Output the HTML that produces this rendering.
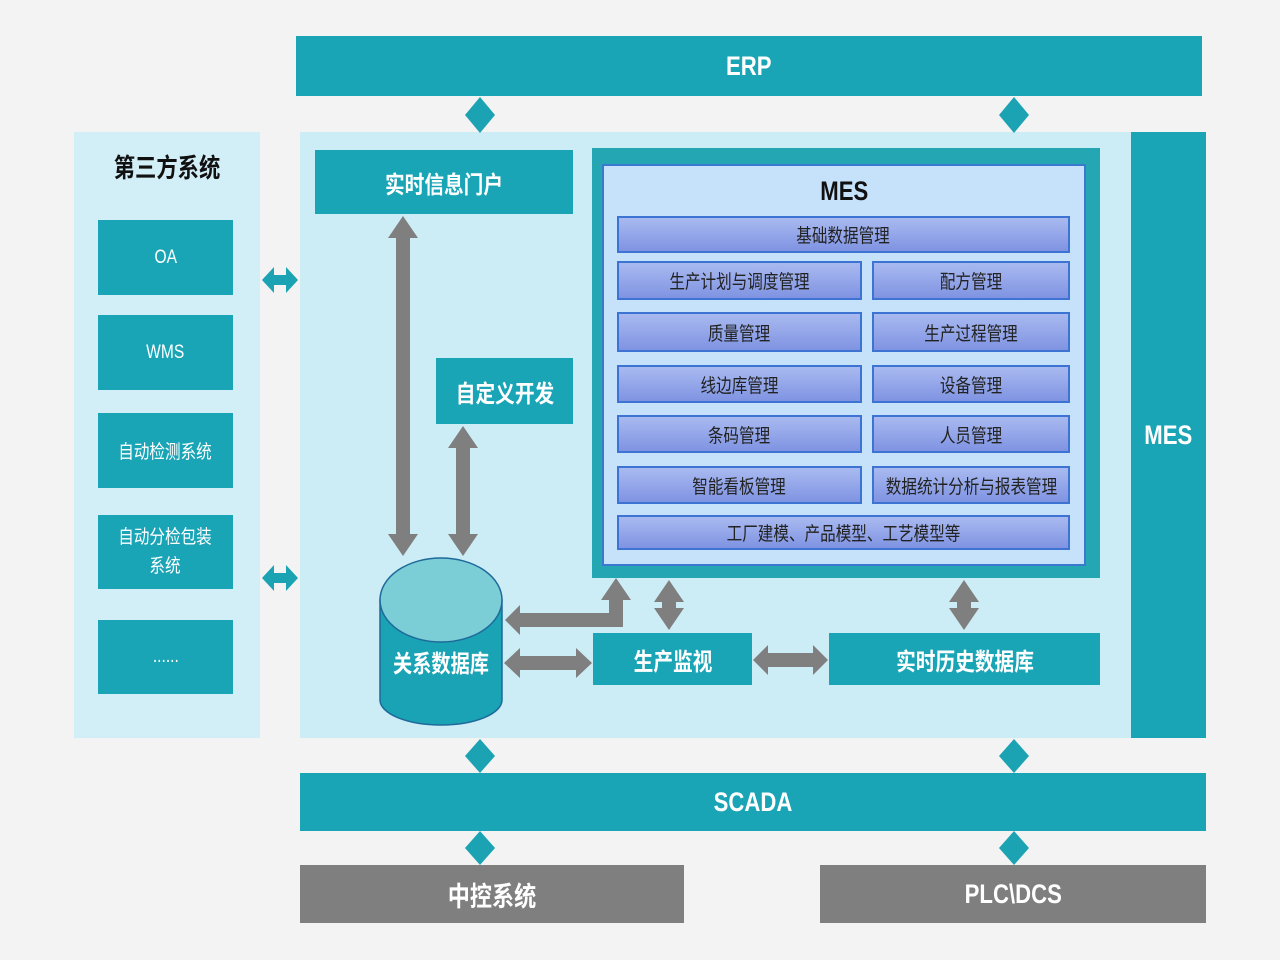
<!DOCTYPE html>
<html><head><meta charset="utf-8"><style>
body{margin:0;width:1280px;height:960px;background:#f3f3f3;position:relative;overflow:hidden;font-family:"Liberation Sans","Noto Sans CJK SC",sans-serif}
.a{position:absolute;display:flex;align-items:center;justify-content:center;box-sizing:border-box;text-align:center;white-space:nowrap}
.a span{display:inline-block;transform:scaleX(0.82)}
.t{background:#1aa5b7;color:#fff}
.b{font-weight:bold}
.g{background:#7f7f7f;color:#fff;font-weight:bold;font-size:27px}
.r{background:linear-gradient(#a9baf0,#7f93e2);border:2px solid #3d74d4;color:#222;font-size:19px}
.l{font-size:19px;color:#fff}
</style></head><body>
<div class="a" style="left:74px;top:132px;width:186px;height:606px;background:#d2eef7"></div>
<div class="a" style="left:300px;top:132px;width:831px;height:606px;background:#cdedf6"></div>
<div class="a t b" style="left:296px;top:36px;width:906px;height:60px;font-size:27px"><span>ERP</span></div>
<div class="a b" style="left:74px;top:145px;width:186px;height:42px;font-size:26px;color:#111"><span>第三方系统</span></div>
<div class="a t l" style="left:98px;top:220px;width:135px;height:75px"><span>OA</span></div>
<div class="a t l" style="left:98px;top:315px;width:135px;height:75px"><span>WMS</span></div>
<div class="a t l" style="left:98px;top:413px;width:135px;height:75px"><span>自动检测系统</span></div>
<div class="a t l" style="left:98px;top:515px;width:135px;height:74px;line-height:29px;white-space:normal"><span>自动分检包装<br>系统</span></div>
<div class="a t l" style="left:98px;top:620px;width:135px;height:74px"><span>......</span></div>
<div class="a t b" style="left:315px;top:150px;width:258px;height:64px;font-size:24px"><span>实时信息门户</span></div>
<div class="a t b" style="left:436px;top:358px;width:137px;height:66px;font-size:24px"><span>自定义开发</span></div>
<div class="a t b" style="left:1131px;top:132px;width:75px;height:606px;font-size:27px"><span>MES</span></div>
<div class="a" style="left:592px;top:148px;width:508px;height:430px;background:#24a7b3"></div>
<div class="a" style="left:602px;top:164px;width:484px;height:402px;background:#c6e2fb;border:2px solid #3b78d0"></div>
<div class="a b" style="left:602px;top:172px;width:484px;height:38px;font-size:27px;color:#111"><span>MES</span></div>
<div class="a r" style="left:617px;top:216px;width:453px;height:37px"><span>基础数据管理</span></div>
<div class="a r" style="left:617px;top:261px;width:245px;height:39px"><span>生产计划与调度管理</span></div>
<div class="a r" style="left:872px;top:261px;width:198px;height:39px"><span>配方管理</span></div>
<div class="a r" style="left:617px;top:312px;width:245px;height:40px"><span>质量管理</span></div>
<div class="a r" style="left:872px;top:312px;width:198px;height:40px"><span>生产过程管理</span></div>
<div class="a r" style="left:617px;top:365px;width:245px;height:38px"><span>线边库管理</span></div>
<div class="a r" style="left:872px;top:365px;width:198px;height:38px"><span>设备管理</span></div>
<div class="a r" style="left:617px;top:415px;width:245px;height:38px"><span>条码管理</span></div>
<div class="a r" style="left:872px;top:415px;width:198px;height:38px"><span>人员管理</span></div>
<div class="a r" style="left:617px;top:466px;width:245px;height:38px"><span>智能看板管理</span></div>
<div class="a r" style="left:872px;top:466px;width:198px;height:38px"><span>数据统计分析与报表管理</span></div>
<div class="a r" style="left:617px;top:515px;width:453px;height:35px"><span>工厂建模、产品模型、工艺模型等</span></div>
<div class="a t b" style="left:593px;top:633px;width:159px;height:52px;font-size:24px"><span>生产监视</span></div>
<div class="a t b" style="left:829px;top:633px;width:271px;height:52px;font-size:24px"><span>实时历史数据库</span></div>
<div class="a t b" style="left:300px;top:773px;width:906px;height:58px;font-size:27px"><span>SCADA</span></div>
<div class="a g" style="left:300px;top:865px;width:384px;height:58px"><span>中控系统</span></div>
<div class="a g" style="left:820px;top:865px;width:386px;height:58px"><span>PLC\DCS</span></div>
<svg width="1280" height="960" style="position:absolute;left:0;top:0">
<g fill="#1ca3b3">
<polygon points="480,97 495,115 480,133 465,115"/><polygon points="1014,97 1029,115 1014,133 999,115"/>
<polygon points="480,739 495,756 480,773 465,756"/><polygon points="1014,739 1029,756 1014,773 999,756"/>
<polygon points="480,831 495,848 480,865 465,848"/><polygon points="1014,831 1029,848 1014,865 999,848"/>
<polygon points="262,280 274,267 274,275 286,275 286,267 298,280 286,293 286,285 274,285 274,293"/>
<polygon points="262,578 274,565 274,573 286,573 286,565 298,578 286,591 286,583 274,583 274,591"/>
</g>
<g fill="#7f7f7f">
<polygon points="403,216 418,238 410,238 410,534 418,534 403,556 388,534 396,534 396,238 388,238"/>
<polygon points="463,426 478,448 470,448 470,534 478,534 463,556 448,534 456,534 456,448 448,448"/>
<polygon points="669,580 684,602 676,602 676,608 684,608 669,630 654,608 662,608 662,602 654,602"/>
<polygon points="964,580 979,602 971,602 971,608 979,608 964,630 949,608 957,608 957,602 949,602"/>
<polygon points="504,663 520,648 520,656 576,656 576,648 592,663 576,678 576,670 520,670 520,678"/>
<polygon points="753,660 768,645 768,653 813,653 813,645 828,660 813,675 813,667 768,667 768,675"/>
<polygon points="505,620 520,605 520,613 609,613 609,600 601,600 616,578 631,600 623,600 623,627 520,627 520,635"/>
</g>
<path d="M380,600 L380,700 A61,25 0 0 0 502,700 L502,600 Z" fill="#1aa3b5" stroke="#1e6a9a" stroke-width="1.5"/>
<ellipse cx="441" cy="600" rx="61" ry="42" fill="#7bcdd6" stroke="#1e6a9a" stroke-width="1.5"/>
<text x="441" y="672" text-anchor="middle" font-size="24" font-weight="bold" fill="#fff" textLength="96" lengthAdjust="spacingAndGlyphs" font-family="Liberation Sans,Noto Sans CJK SC,sans-serif">关系数据库</text>
</svg>
</body></html>
